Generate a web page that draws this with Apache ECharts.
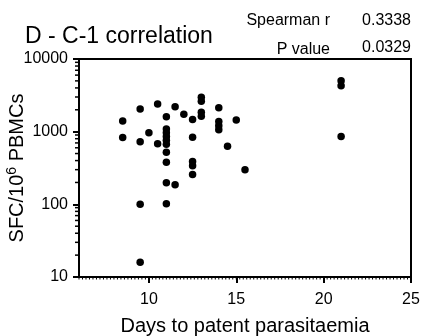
<!DOCTYPE html>
<html><head><meta charset="utf-8">
<script src="https://cdn.jsdelivr.net/npm/echarts@6/dist/echarts.min.js"></script>
<style>html,body{margin:0;padding:0;background:#fff}#c{width:421px;height:336px}</style>
</head><body><div id="c"></div>
<script>
const titleText = 'D - C-1 correlation';
const statLabels = ['Spearman r', 'P value'];
const statValues = ['0.3338', '0.0329'];
const xTicks = [10, 15, 20, 25];
const yTicks = [10, 100, 1000, 10000];
const days = [8.5, 8.5,
  9.5, 9.5, 9.5, 9.5,
  10,
  10.5, 10.5,
  11, 11, 11, 11, 11, 11, 11, 11, 11, 11,
  11.5, 11.5,
  12,
  12.5, 12.5, 12.5, 12.5, 12.5,
  13, 13, 13, 13,
  14, 14, 14, 14,
  14.5, 15, 15.5,
  21, 21, 21];
const sfc = [1400, 830,
  2050, 725, 100, 16,
  970,
  2400, 680,
  1610, 1090, 970, 860, 760, 670, 520, 380, 198, 102,
  2210, 186,
  1730,
  1470, 840, 390, 340, 258,
  2970, 2620, 1850, 1630,
  2140, 1380, 1210, 1060,
  630, 1450, 300,
  5000, 4300, 860];

const X_MIN = 6, X_MAX = 25, Y_MIN = 10, Y_MAX = 10000;
const points = days.map((d, i) => [d, sfc[i]]);

// minor tick positions (styling only)
const yMinor = [];
for (let e = 1; e < 4; e++) for (let k = 2; k <= 9; k++) yMinor.push(k * Math.pow(10, e));
const xMinor = [];
for (let i = 0; i <= 95; i++) xMinor.push(X_MIN + i * 0.2);

const font = 'Liberation Sans, Arial, Helvetica, sans-serif';
const chart = echarts.init(document.getElementById('c'), null, {renderer: 'canvas'});
chart.setOption({
  animation: false,
  backgroundColor: '#fff',
  grid: {left: 79, right: 10, top: 59, bottom: 59, containLabel: false, outerBoundsMode: 'none',
    show: true, borderColor: '#000', borderWidth: 2, backgroundColor: 'transparent'},
  title: [
    {text: titleText, left: 20, top: 20, textStyle: {fontFamily: font, fontSize: 23, fontWeight: 'normal', color: '#000'}},
    {text: statLabels[0], right: 86, top: 8, textStyle: {fontFamily: font, fontSize: 16, fontWeight: 'normal', color: '#000'}},
    {text: statValues[0], right: 5, top: 8, textStyle: {fontFamily: font, fontSize: 16, fontWeight: 'normal', color: '#000'}},
    {text: statLabels[1], right: 86, top: 37, textStyle: {fontFamily: font, fontSize: 16, fontWeight: 'normal', color: '#000'}},
    {text: statValues[1], right: 5, top: 35, textStyle: {fontFamily: font, fontSize: 16, fontWeight: 'normal', color: '#000'}}
  ],
  xAxis: {
    type: 'value', min: X_MIN, max: X_MAX,
    name: 'Days to patent parasitaemia', nameLocation: 'middle', nameGap: 39, nameMoveOverlap: false,
    nameTextStyle: {fontFamily: font, fontSize: 20, color: '#000'},
    axisLine: {show: true, lineStyle: {color: '#000', width: 2}},
    axisTick: {show: true, length: 6, lineStyle: {color: '#000', width: 2}, customValues: xTicks},
    axisLabel: {customValues: xTicks, fontFamily: font, fontSize: 16, color: '#000', margin: 15},
    splitLine: {show: false}
  },
  yAxis: {
    type: 'log', logBase: 10, min: Y_MIN, max: Y_MAX,
    name: '{a|SFC/10}{s|6}{a| PBMCs}', nameLocation: 'middle', nameGap: 50, nameMoveOverlap: false,
    nameTextStyle: {fontFamily: font, color: '#000', rich: {
      a: {fontFamily: font, fontSize: 20, color: '#000', lineHeight: 24},
      s: {fontFamily: font, fontSize: 14, color: '#000', lineHeight: 12, verticalAlign: 'top'}
    }},
    axisLine: {show: true, lineStyle: {color: '#000', width: 2}},
    axisTick: {show: true, length: 6, lineStyle: {color: '#000', width: 2}},
    axisLabel: {fontFamily: font, fontSize: 16, color: '#000', margin: 11, formatter: v => String(v)},
    splitLine: {show: false}
  },
  series: [
    {type: 'scatter', data: points, symbol: 'circle', symbolSize: 7.5, itemStyle: {color: '#000', opacity: 1}, z: 5}
  ]
});

// minor ticks placed through the chart's own scales
const gfx = [];
yMinor.forEach(v => {
  const p = chart.convertToPixel({gridIndex: 0}, [X_MIN, v]);
  gfx.push({type: 'line', shape: {x1: p[0] - 4, y1: p[1], x2: p[0], y2: p[1]}, style: {stroke: '#000', lineWidth: 1.5}, z: 100, silent: true});
});
xMinor.forEach(v => {
  const p = chart.convertToPixel({gridIndex: 0}, [v, Y_MIN]);
  gfx.push({type: 'line', shape: {x1: p[0], y1: p[1], x2: p[0], y2: p[1] + 2.5}, style: {stroke: '#000', lineWidth: 1}, z: 100, silent: true});
});
chart.setOption({graphic: gfx});
</script></body></html>
